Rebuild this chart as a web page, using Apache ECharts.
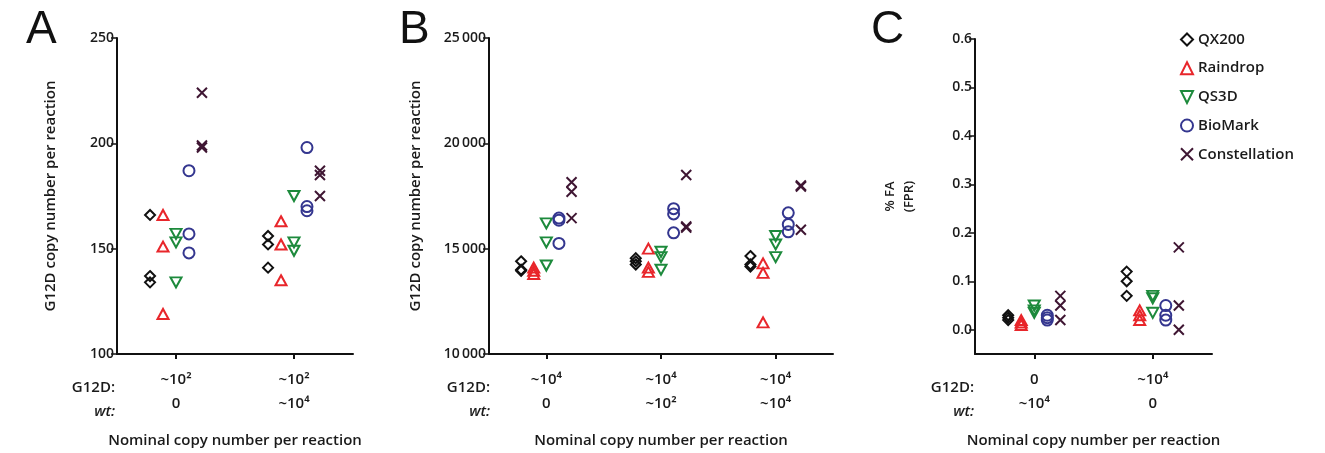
<!DOCTYPE html>
<html>
<head>
<meta charset="utf-8">
<script src="https://cdn.jsdelivr.net/npm/echarts@6/dist/echarts.min.js"></script>
<style>
html,body{margin:0;padding:0;background:#fff;}
#c{width:1325px;height:453px;}
</style>
</head>
<body>
<div id="c"></div>
<script>
// ---- series names ----
const seriesNames = ['QX200', 'Raindrop', 'QS3D', 'BioMark', 'Constellation'];

// ---- Panel A: categories ----
const catA_G12D = ['~10²', '~10²'];
const catA_wt = ['0', '~10⁴'];
// values per group (group 1, group 2)
const A_QX200 = [[166, 137, 134], [156, 152, 141]];
const A_Raindrop = [[166, 151, 119], [163, 152, 135]];
const A_QS3D = [[157, 153, 134], [175, 153, 149]];
const A_BioMark = [[187, 157, 148], [198, 170, 168]];
const A_Constellation = [[224, 199, 198], [187, 185, 175]];
const A_ticks = [100, 150, 200, 250];

// ---- Panel B ----
const catB_G12D = ['~10⁴', '~10⁴', '~10⁴'];
const catB_wt = ['0', '~10²', '~10⁴'];
const B_QX200 = [[14400, 14000, 13950], [14550, 14400, 14250], [14650, 14250, 14150]];
const B_Raindrop = [[14100, 13950, 13800], [15000, 14100, 13900], [14300, 13850, 11500]];
const B_QS3D = [[16200, 15300, 14200], [14850, 14600, 14000], [15600, 15200, 14600]];
const B_BioMark = [[16450, 16350, 15250], [16900, 16650, 15750], [16700, 16150, 15800]];
const B_Constellation = [[18150, 17700, 16450], [18500, 16050, 16000], [18000, 17950, 15900]];
const B_ticks = [10000, 15000, 20000, 25000];

// ---- Panel C ----
const catC_G12D = ['0', '~10⁴'];
const catC_wt = ['~10⁴', '0'];
const C_QX200 = [[0.03, 0.025, 0.02], [0.12, 0.10, 0.07]];
const C_Raindrop = [[0.02, 0.015, 0.01], [0.04, 0.03, 0.02]];
const C_QS3D = [[0.05, 0.04, 0.035], [0.07, 0.065, 0.035]];
const C_BioMark = [[0.03, 0.025, 0.02], [0.05, 0.03, 0.02]];
const C_Constellation = [[0.07, 0.05, 0.02], [0.17, 0.05, 0.0]];
const C_ticks = [0, 0.1, 0.2, 0.3, 0.4, 0.5, 0.6];

// ---- styles ----
const colors = ['#111111', '#e8262b', '#1d8a3c', '#34368f', '#3f1633'];
const symbols = [
  'path://M0,-1L1,0L0,1L-1,0Z',
  'path://M0,-1L1,1L-1,1Z',
  'path://M-1,-1L1,-1L0,1Z',
  'circle',
  'path://M-1,-1L1,1M1,-1L-1,1'
];
const symSizes = [10, [11, 10], [11, 10], 11, 10];
const offsets = [-0.22, -0.11, 0, 0.11, 0.22];
const FONT = '"Open Sans", "DejaVu Sans", sans-serif';
const TXT = '#1a1a1a';

const panels = [
  {data: [A_QX200, A_Raindrop, A_QS3D, A_BioMark, A_Constellation], g12d: catA_G12D, wt: catA_wt, ticks: A_ticks},
  {data: [B_QX200, B_Raindrop, B_QS3D, B_BioMark, B_Constellation], g12d: catB_G12D, wt: catB_wt, ticks: B_ticks},
  {data: [C_QX200, C_Raindrop, C_QS3D, C_BioMark, C_Constellation], g12d: catC_G12D, wt: catC_wt, ticks: C_ticks}
];

const grids = [
  {left: 117, top: 38, width: 236, bottom: 92},
  {left: 489, top: 38, width: 344, bottom: 92},
  {left: 975, top: 39, width: 237, bottom: 92}
];

const yRange = [[100, 250], [10000, 25000], [-0.05, 0.6]];
const yNames = ['G12D copy number per reaction', 'G12D copy number per reaction', '% FA\n(FPR)'];
const yNameGap = [57, 64, 56];

const xAxes = panels.map((p, i) => {
  const n = p.g12d.length;
  const cv = p.g12d.map((_, k) => k + 1);
  return {
    type: 'value', gridIndex: i, min: 0.5, max: n + 0.5,
    axisLine: {show: true, onZero: false, lineStyle: {color: '#111', width: 2}},
    axisTick: {show: true, customValues: cv, length: 5, lineStyle: {color: '#111', width: 2}},
    axisLabel: {
      customValues: cv, margin: 14, color: TXT, fontFamily: FONT, fontSize: 15, fontWeight: 600,
      lineHeight: 24,
      formatter: v => {
        const k = Math.round(v) - 1;
        return p.g12d[k] + '\n' + p.wt[k];
      }
    },
    splitLine: {show: false},
    name: 'Nominal copy number per reaction', nameLocation: 'middle', nameGap: 79,
    nameTextStyle: {color: TXT, fontFamily: FONT, fontSize: 15, fontWeight: 600}
  };
});

const yAxes = panels.map((p, i) => ({
  type: 'value', gridIndex: i, min: yRange[i][0], max: yRange[i][1],
  axisLine: {show: true, onZero: false, lineStyle: {color: '#111', width: 2}},
  axisTick: {show: true, customValues: p.ticks, length: 6, lineStyle: {color: '#111', width: 1.5}},
  axisLabel: {
    customValues: p.ticks, margin: 3, color: TXT, fontFamily: FONT, fontSize: 14, fontWeight: 600,
    formatter: v => i === 2 ? v.toFixed(1) : (i === 1 ? String(v).replace(/(\d{2})(\d{3})$/, '$1\u2009$2') : String(v))
  },
  splitLine: {show: false},
  name: yNames[i], nameLocation: 'middle', nameGap: yNameGap[i], nameRotate: 90,
  nameTextStyle: {color: TXT, fontFamily: FONT, fontSize: i === 2 ? 13 : 15, fontWeight: 600, lineHeight: 19}
}));

const series = [];
panels.forEach((p, i) => {
  p.data.forEach((groups, s) => {
    const pts = [];
    groups.forEach((vals, g) => {
      vals.forEach(v => pts.push([g + 1 + offsets[s], v]));
    });
    series.push({
      name: seriesNames[s], type: 'scatter', xAxisIndex: i, yAxisIndex: i,
      data: pts, symbol: symbols[s], symbolSize: symSizes[s],
      itemStyle: {color: 'rgba(255,255,255,0)', borderColor: colors[s], borderWidth: 2, opacity: 1},
      emphasis: {disabled: true},
      z: 2
    });
  });
});

const chart = echarts.init(document.getElementById('c'), null, {renderer: 'canvas'});
chart.setOption({
  animation: false,
  backgroundColor: '#fff',
  grid: grids,
  xAxis: xAxes,
  yAxis: yAxes,
  series: series,
  legend: {
    orient: 'vertical', left: 1175, top: 27, itemGap: 13.7,
    itemWidth: 12, itemHeight: 12,
    data: seriesNames.map((n, s) => ({name: n, icon: symbols[s],
      itemStyle: {color: 'rgba(255,255,255,0)', borderColor: colors[s], borderWidth: 2}})),
    textStyle: {color: TXT, fontFamily: FONT, fontSize: 15, fontWeight: 600},
    selectedMode: false
  },
  graphic: [
    {type: 'text', left: 26, top: 7, style: {text: 'A', fontSize: 46, fontFamily: '"Liberation Sans", Arial, sans-serif', fill: '#111'}},
    {type: 'text', left: 399, top: 7, style: {text: 'B', fontSize: 46, fontFamily: '"Liberation Sans", Arial, sans-serif', fill: '#111'}},
    {type: 'text', left: 871, top: 7, style: {text: 'C', fontSize: 46, fontFamily: '"Liberation Sans", Arial, sans-serif', fill: '#111'}},
    ...[115, 490, 974].flatMap(x => [
      {type: 'text', x: x, y: 388, style: {text: 'G12D:', align: 'right', verticalAlign: 'middle', fontSize: 15, fontWeight: 600, fontFamily: FONT, fill: TXT}},
      {type: 'text', x: x, y: 412, style: {text: 'wt:', align: 'right', verticalAlign: 'middle', fontSize: 15, fontWeight: 600, fontStyle: 'italic', fontFamily: FONT, fill: TXT}}
    ])
  ]
});
</script>
</body>
</html>
